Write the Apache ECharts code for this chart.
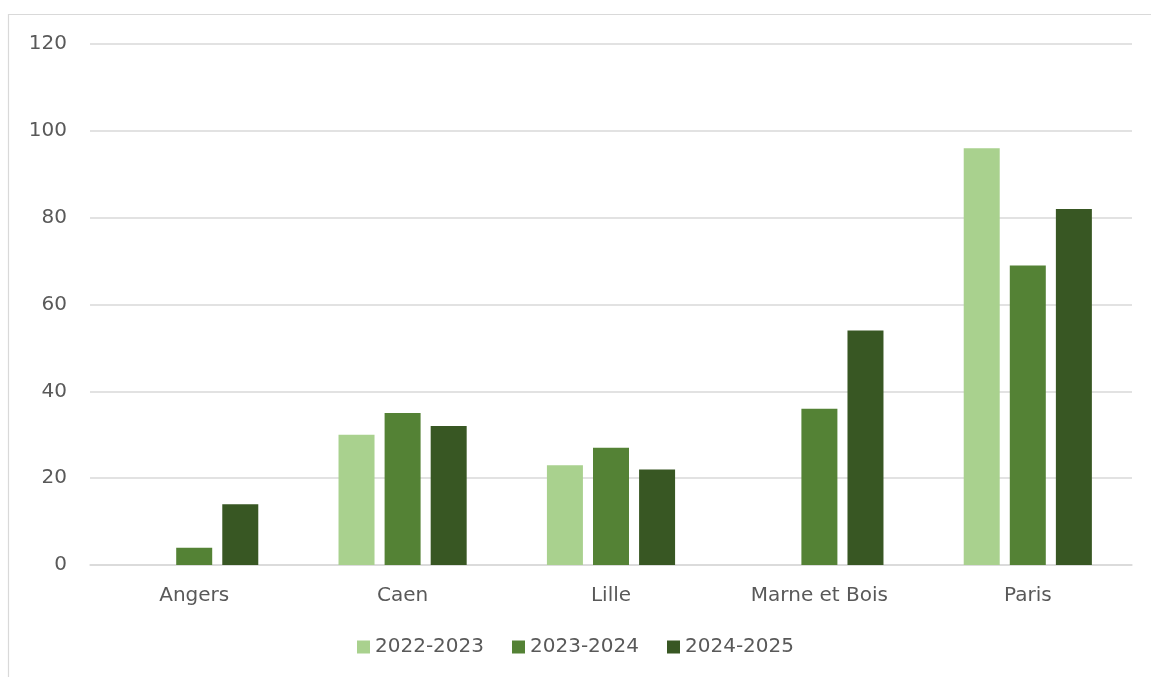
<!DOCTYPE html>
<html>
<head>
<meta charset="utf-8">
<script src="https://cdn.jsdelivr.net/npm/echarts@6/dist/echarts.min.js"></script>
<style>
html,body{margin:0;padding:0;background:#fff;}
#main{width:1151px;height:677px;}
</style>
</head>
<body>
<div id="main"></div>
<script>
const categories = ['Angers', 'Caen', 'Lille', 'Marne et Bois', 'Paris'];
const seriesNames = ['2022-2023', '2023-2024', '2024-2025'];
const values2022 = [null, 30, 23, null, 96];
const values2023 = [4, 35, 27, 36, 69];
const values2024 = [14, 32, 22, 54, 82];
const yTicks = [0, 20, 40, 60, 80, 100, 120];
const colors = ['#A9D18E', '#548235', '#385723'];

const chart = echarts.init(document.getElementById('main'));
const fontFamily = '"DejaVu Sans", sans-serif';
const allValues = [values2022, values2023, values2024];
chart.setOption({
  animation: false,
  graphic: [{
    type: 'polyline',
    shape: { points: [[8.5, 700], [8.5, 14.5], [1160, 14.5]] },
    style: { fill: 'none', stroke: '#d9d9d9', lineWidth: 1.2 }
  }],
  grid: { left: 90, right: 19, top: 44, bottom: 112 },
  legend: {
    bottom: 15,
    left: 'center',
    itemWidth: 13,
    itemHeight: 13,
    itemGap: 28,
    icon: 'rect',
    textStyle: { color: '#595959', fontSize: 20, fontFamily: fontFamily },
    data: seriesNames
  },
  xAxis: {
    type: 'category',
    data: categories,
    axisLine: { show: true, lineStyle: { color: '#d9d9d9', width: 1.5 } },
    axisTick: { show: false },
    axisLabel: { color: '#595959', fontSize: 20, fontFamily: fontFamily, margin: 21 }
  },
  yAxis: {
    type: 'value',
    min: yTicks[0],
    max: yTicks[yTicks.length - 1],
    interval: 20,
    axisLine: { show: false },
    axisTick: { show: false },
    splitLine: { lineStyle: { color: '#d9d9d9', width: 1.5 } },
    axisLabel: { color: '#595959', fontSize: 20, fontFamily: fontFamily, margin: 23 }
  },
  series: seriesNames.map((name, i) => ({
    name: name,
    type: 'bar',
    data: allValues[i],
    barWidth: 36,
    barGap: '28%',
    itemStyle: { color: colors[i] }
  }))
});
</script>
</body>
</html>
